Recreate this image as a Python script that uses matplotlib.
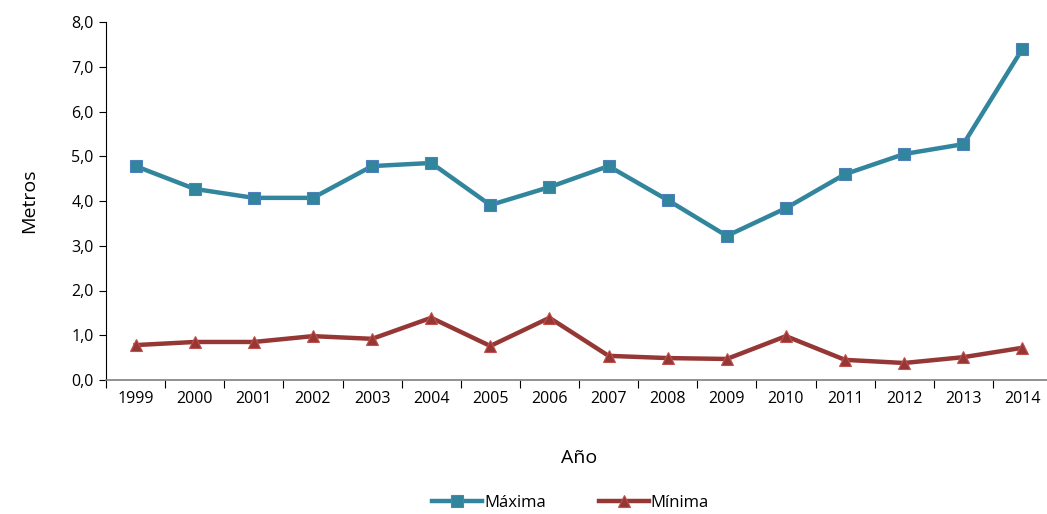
import matplotlib
matplotlib.use('Agg')
import matplotlib.pyplot as plt
import numpy as np

years = ['1999', '2000', '2001', '2002', '2003', '2004', '2005', '2006',
         '2007', '2008', '2009', '2010', '2011', '2012', '2013', '2014']
maxima = [4.78, 4.27, 4.07, 4.07, 4.78, 4.85, 3.91, 4.31,
          4.78, 4.02, 3.22, 3.84, 4.60, 5.05, 5.27, 7.40]
minima = [0.78, 0.85, 0.85, 0.98, 0.92, 1.39, 0.76, 1.39,
          0.54, 0.49, 0.47, 0.98, 0.45, 0.38, 0.51, 0.72]
yticks = [0, 1, 2, 3, 4, 5, 6, 7, 8]

plt.rcParams['font.family'] = ['Open Sans', 'DejaVu Sans']

fig = plt.figure(figsize=(10.47, 5.14), dpi=100)
ax = fig.add_axes([106 / 1047, 1 - 380 / 514, 946 / 1047, 358 / 514])

x = np.arange(len(years))
ax.plot(x, maxima, color='#31859C', lw=3.2, marker='s', ms=9,
        mfc='#31859C', mec='#4F81BD', mew=0.8, label='Máxima', zorder=3)
ax.plot(x, minima, color='#953735', lw=3.2, marker='^', ms=9,
        mfc='#953735', mec='#C0504D', mew=0.8, label='Mínima', zorder=3)

ax.set_xlim(-0.5, len(years) - 0.5)
ax.set_ylim(0, 8)
ax.set_yticks(yticks)
ax.set_yticklabels([f'{v:.1f}'.replace('.', ',') for v in yticks], fontsize=11.5)
ax.set_xticks(x)
ax.set_xticklabels(years, fontsize=11.5)
ax.set_xticks(np.arange(-0.5, len(years), 1), minor=True)
ax.tick_params(axis='x', which='major', length=0, pad=8)
ax.tick_params(axis='x', which='minor', length=6, color='#000000', width=0.8)
ax.tick_params(axis='y', length=5, width=0.8, pad=4)

for s in ['top', 'right']:
    ax.spines[s].set_visible(False)
ax.spines['left'].set_color('#000000')
ax.spines['bottom'].set_color('#7f7f7f')
ax.spines['left'].set_linewidth(0.8)
ax.spines['bottom'].set_linewidth(1.2)

ax.set_ylabel('Metros', fontsize=14, labelpad=24)
ax.set_xlabel('Año', fontsize=14, labelpad=30)

fig.legend(loc='center', bbox_to_anchor=(0.545, 1 - 503 / 514), ncol=2,
           frameon=False, fontsize=12, handlelength=3.0, handletextpad=0.1,
           columnspacing=3.2)

fig.savefig('out.png', dpi=100)
